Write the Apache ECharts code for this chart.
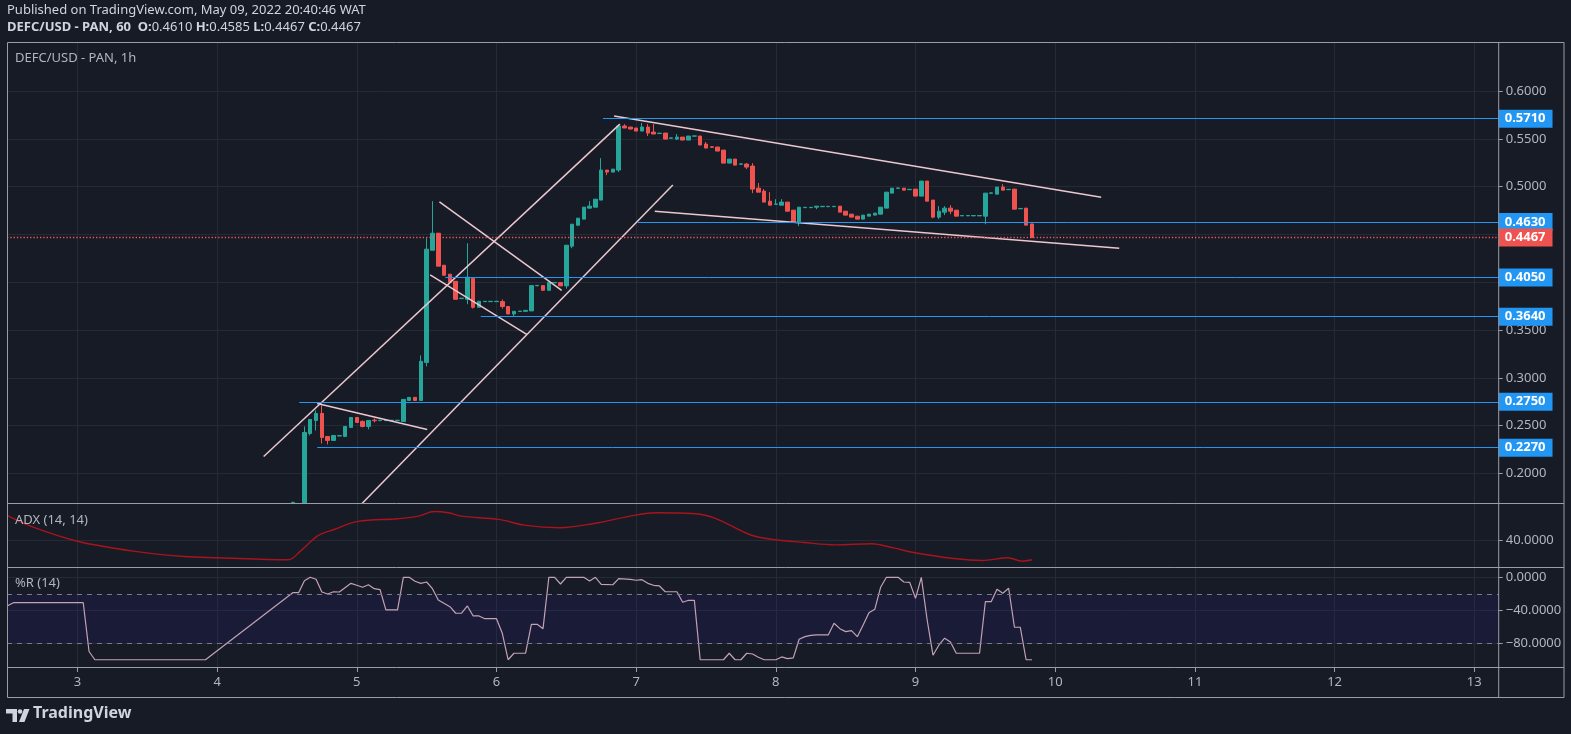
<!DOCTYPE html>
<html><head><meta charset="utf-8">
<script src="https://cdn.jsdelivr.net/npm/echarts@6/dist/echarts.min.js"></script>
<style>html,body{margin:0;padding:0;background:#171b26;overflow:hidden}#c{width:1571px;height:734px}</style>
</head><body><div id="c"></div>
<script>
// ---- data (hours counted from May 3 00:00) ----
const hours = [37,39,40,41,42,43,44,45,46,47,
  48,49,50,51,52,53,54,55,56,57,
  58,59,60,61,62,63,64,65,66,67,
  68,69,70,71,72,73,74,75,76,77,
  78,79,80,81,82,83,84,85,86,87,
  88,89,90,91,92,93,94,95,96,97,
  98,99,100,101,102,103,104,105,106,107,
  108,109,110,111,112,113,114,115,116,117,
  118,119,120,121,122,123,124,125,126,127,
  128,129,130,131,132,133,134,135,136,137,
  138,139,140,141,142,143,144,145,146,147,
  148,149,150,151,152,153,154,155,156,157,
  158,159,160,161,162,163,164];
const open = [0.1695,0.1692,0.2419,0.2555,0.2628,0.2387,0.2346,0.2392,0.2388,0.2482,
  0.2586,0.2545,0.2492,0.2558,0.2553,0.2553,0.2553,0.2553,0.2544,0.2764,
  0.2796,0.2764,0.3162,0.4335,0.4513,0.4178,0.4084,0.4010,0.3829,0.3822,
  0.4042,0.3738,0.3797,0.3797,0.3797,0.3798,0.3746,0.3668,0.3694,0.3696,
  0.3700,0.3963,0.3965,0.3916,0.3994,0.3996,0.3962,0.4377,0.4597,0.4660,
  0.4775,0.4785,0.4859,0.5173,0.5152,0.5173,0.5634,0.5623,0.5613,0.5581,
  0.5623,0.5570,0.5555,0.5560,0.5506,0.5497,0.5518,0.5487,0.5527,0.5529,
  0.5445,0.5417,0.5414,0.5382,0.5246,0.5288,0.5234,0.5236,0.5215,0.4984,
  0.4953,0.4848,0.4815,0.4806,0.4838,0.4754,0.4628,0.4780,0.4780,0.4785,
  0.4790,0.4790,0.4790,0.4796,0.4743,0.4712,0.4691,0.4660,0.4691,0.4702,
  0.4712,0.4775,0.4932,0.4982,0.4984,0.4968,0.4974,0.4901,0.5058,0.4859,
  0.4681,0.4733,0.4775,0.4754,0.4694,0.4694,0.4694,0.4694,0.4691,0.4930,
  0.4921,0.4995,0.4968,0.4974,0.4768,0.4775,0.4610];
const close = [0.1698,0.2429,0.2565,0.2628,0.2377,0.2346,0.2398,0.2396,0.2492,0.2586,
  0.2534,0.2492,0.2555,0.2552,0.2557,0.2557,0.2557,0.2557,0.2775,0.2796,
  0.2764,0.3173,0.4346,0.4513,0.4168,0.4073,0.4000,0.3822,0.3834,0.4052,
  0.3738,0.3801,0.3801,0.3801,0.3801,0.3746,0.3668,0.3696,0.3698,0.3706,
  0.3965,0.3967,0.3916,0.3996,0.3998,0.3962,0.4387,0.4607,0.4670,0.4785,
  0.4796,0.4869,0.5173,0.5152,0.5183,0.5634,0.5613,0.5602,0.5581,0.5623,
  0.5560,0.5550,0.5559,0.5497,0.5510,0.5518,0.5487,0.5529,0.5531,0.5435,
  0.5403,0.5411,0.5372,0.5246,0.5288,0.5225,0.5238,0.5204,0.4974,0.4942,
  0.4838,0.4806,0.4819,0.4838,0.4743,0.4628,0.4785,0.4784,0.4784,0.4796,
  0.4794,0.4794,0.4794,0.4733,0.4702,0.4681,0.4660,0.4702,0.4712,0.4723,
  0.4785,0.4942,0.4984,0.4986,0.4963,0.4972,0.4901,0.5058,0.4848,0.4681,
  0.4743,0.4775,0.4743,0.4691,0.4698,0.4698,0.4698,0.4698,0.4932,0.4935,
  0.4995,0.4963,0.4972,0.4764,0.4772,0.4597,0.4467];
const low = [0.1692,0.1692,0.2398,0.2450,0.2314,0.2304,0.2346,0.2392,0.2381,0.2482,
  0.2534,0.2482,0.2462,0.2534,0.2553,0.2553,0.2553,0.2553,0.2544,0.2764,
  0.2764,0.2764,0.3120,0.4335,0.4168,0.4073,0.4000,0.3822,0.3829,0.3770,
  0.3725,0.3738,0.3797,0.3797,0.3797,0.3725,0.3668,0.3638,0.3694,0.3696,
  0.3700,0.3963,0.3916,0.3916,0.3994,0.3962,0.3933,0.4356,0.4587,0.4660,
  0.4775,0.4785,0.4859,0.5120,0.5152,0.5152,0.5613,0.5602,0.5581,0.5581,
  0.5529,0.5550,0.5555,0.5497,0.5506,0.5487,0.5487,0.5487,0.5527,0.5435,
  0.5403,0.5411,0.5372,0.5246,0.5246,0.5225,0.5234,0.5183,0.4932,0.4942,
  0.4838,0.4806,0.4815,0.4806,0.4743,0.4628,0.4587,0.4780,0.4780,0.4764,
  0.4790,0.4790,0.4790,0.4733,0.4702,0.4681,0.4660,0.4660,0.4691,0.4702,
  0.4712,0.4775,0.4932,0.4982,0.4963,0.4968,0.4901,0.4901,0.4848,0.4670,
  0.4660,0.4702,0.4712,0.4691,0.4694,0.4694,0.4694,0.4694,0.4607,0.4930,
  0.4921,0.4963,0.4968,0.4764,0.4768,0.4597,0.4467];
const high = [0.1705,0.2492,0.2565,0.2660,0.2712,0.2387,0.2398,0.2396,0.2492,0.2586,
  0.2586,0.2555,0.2555,0.2576,0.2557,0.2557,0.2557,0.2557,0.2775,0.2796,
  0.2796,0.3236,0.4461,0.4848,0.4513,0.4178,0.4084,0.4010,0.3834,0.4408,
  0.4052,0.3801,0.3801,0.3801,0.3801,0.3820,0.3746,0.3696,0.3698,0.3706,
  0.3965,0.3967,0.3965,0.3996,0.3998,0.3996,0.4387,0.4607,0.4670,0.4785,
  0.4848,0.4869,0.5298,0.5173,0.5183,0.5634,0.5654,0.5623,0.5613,0.5665,
  0.5654,0.5654,0.5559,0.5560,0.5510,0.5550,0.5518,0.5529,0.5531,0.5529,
  0.5466,0.5424,0.5414,0.5382,0.5288,0.5288,0.5238,0.5246,0.5246,0.5037,
  0.4974,0.4942,0.4869,0.4869,0.4838,0.4754,0.4785,0.4784,0.4784,0.4796,
  0.4794,0.4794,0.4794,0.4796,0.4743,0.4712,0.4691,0.4702,0.4712,0.4723,
  0.4785,0.4942,0.4984,0.4986,0.4984,0.4972,0.4974,0.5058,0.5058,0.4859,
  0.4796,0.4796,0.4806,0.4754,0.4698,0.4698,0.4698,0.4698,0.4932,0.4935,
  0.4995,0.5026,0.4972,0.4974,0.4772,0.4775,0.4610];

// horizontal levels drawn on chart
const levelPrices = [0.5710, 0.4630, 0.4050, 0.3640, 0.2750, 0.2270];
const levelStartHours = [90.3, 96.3, 63.2, 69.3, 38.1, 41.2];
const lastPrice = 0.4467;

// trend lines: [hour, price] pairs
const trendLines = [
  [[32.0, 0.2178], [93.2, 0.5654]],
  [[48.9, 0.1686], [102.3, 0.5016]],
  [[62.2, 0.4841], [83.2, 0.3916]],
  [[60.6, 0.4076], [77.2, 0.3455]],
  [[41.2, 0.2733], [60.1, 0.2461]],
  [[92.2, 0.5738], [175.9, 0.4890]],
  [[99.2, 0.4743], [179.0, 0.4356]]
];

// ADX (14,14)
const adxHours = [-12.1,-7.6,0,9.6,18.3,24.1,36.2,38.4,41.4,44.1,48.2,55.1,58.6,61.3,63.7,66.0,72.4,76.8,82.9,88.5,95.9,99.6,105.7,109.4,115.6,119.9,124.8,130.3,136.5,140.2,143.9,150.6,155.5,159.9,162.3,164];
const adxValues = [53.9,47.4,39.6,34.1,31.1,30.4,29.3,34.4,42.8,46.1,50.6,52.1,53.5,56.1,55.4,53.5,51.7,48.5,47.1,49.3,54.1,55.4,55.0,52.6,43.2,40.4,38.9,37.6,38.2,35.9,33.2,30.0,28.9,30.4,28.5,29.3];

// Williams %R (14)
const wrHours = [-12.1,-11,1,2,3,22,37,38,39,40,41,42,43,44,45,47,48,49,50,51,52,53,55,56,57,58,59,60,61,62,64,65,66,67,68,69,70,72,
  73,74,75,77,78,79,80,81,82,83,84,87,88,89,90,92,93,95,96,97,98,99,100,101,103,104,105,106,107,111,112,113,114,115,116,117,118,120,121,122,123,
  124,125,126,127,129,130,131,132,133,134,135,136,137,138,139,141,142,143,144,145,146,147,148,149,150,151,155,156,157,158,159,160,161,162,163,164];
const wrValues = [-34.8,-30.8,-30.8,-90,-100,-100,-18.7,-18.7,-4.1,0,-2.4,-17.8,-20.2,-17.5,-17.8,-7.3,-9.7,-12.1,-9.0,-13.8,-15.0,-39.6,-39.6,0,0,-4.8,-7.3,-5.7,-13.8,-27.5,-35.6,-43.6,-43.6,-34.8,-46.9,-46.9,-50.2,-50.2,
  -67.9,-100,-92.1,-92.1,-57.0,-57.0,-62.3,0,0,-8.1,0,0,-4.5,0,-8.5,-9.0,-1.7,-2.4,-3.6,-2.9,-7.3,-9.7,-10.5,-17.5,-17.5,-30.3,-27.9,-27.9,-100,-100,-92.1,-100,-100,-92.1,-93.0,-97.0,-100,-100,-96.6,-98.7,-97.8,
  -75.2,-72.0,-70.5,-69.9,-69.9,-55.8,-62.3,-65.9,-64.7,-72.0,-57.8,-42.9,-38.8,-12.1,0,0,-5.7,-6.1,-25.5,0,-51.8,-94.5,-82.4,-73.9,-78.4,-92.1,-92.1,-29.6,-29.6,-14.5,-19.4,-13.3,-60.6,-60.6,-100,-100];

// axis ticks
const dayTickHours = [0,24,48,72,96,120,144,168,192,216,240];
const dayLabels = ['3','4','5','6','7','8','9','10','11','12','13'];
const priceGrid = [0.2,0.25,0.3,0.35,0.4,0.45,0.5,0.55,0.6];
const priceLabels = [0.2,0.25,0.3,0.35,0.5,0.55,0.6];
const adxTicks = [40];
const wrTicks = [0,-40,-80];
const wrBands = [-20,-80];

// ---- chart ----
const FONT = '"Noto Sans","Open Sans",sans-serif';
const X_MIN = -12.1, X_MAX = 244.2;
const GRID_L = 7, GRID_W = 1491.7;
const BG = '#171b26';
const GRIDC = '#262a36';
const FRAME = '#9a9da6';
const TXT = '#b2b5be';
const UP = '#26a69a', DOWN = '#ef5350';

const chart = echarts.init(document.getElementById('c'), null, {renderer:'canvas'});

function xAx(i){
  return {type:'value', gridIndex:i, min:X_MIN, max:X_MAX,
    axisLine:{show:false, onZero:false},
    axisTick:{show:i===2, customValues:dayTickHours, length:5, lineStyle:{color:FRAME}},
    axisLabel:{show:i===2, customValues:dayTickHours, color:TXT, fontSize:13, fontFamily:FONT, margin:9,
      formatter:(v)=>dayLabels[dayTickHours.indexOf(v)]},
    splitLine:{show:true, lineStyle:{color:GRIDC, width:1}}};
}

const candleData = hours.map((h,i)=>[h, open[i], close[i], low[i], high[i]]);

const lvlMark = levelPrices.map((p,i)=>[
  {coord:[levelStartHours[i], p], lineStyle:{color:'#2196f3', width:1, type:'solid'},
   label:{show:true, position:'end', distance:0, formatter:p.toFixed(4), backgroundColor:'#2196f3',
     color:'#ffffff', fontWeight:'bold', fontSize:13, fontFamily:FONT, padding:[3,7,2,6]}},
  {coord:[X_MAX, p]}
]);
lvlMark.push([
  {coord:[X_MIN, lastPrice], lineStyle:{color:'#f05a5a', width:1.3, type:[1.3,2]},
   label:{show:true, position:'end', distance:0, formatter:lastPrice.toFixed(4), backgroundColor:DOWN,
     color:'#ffffff', fontWeight:'bold', fontSize:13, fontFamily:FONT, padding:[3,7,2,6]}},
  {coord:[X_MAX, lastPrice]}
]);

const series = [
  {type:'candlestick', name:'DEFC/USD', xAxisIndex:0, yAxisIndex:0, data:candleData,
   encode:{x:0, y:[1,2,3,4]}, barWidth:4, clip:true,
   itemStyle:{color:UP, color0:DOWN, borderColor:UP, borderColor0:DOWN, borderWidth:1},
   markLine:{silent:true, symbol:['none','none'], animation:false, data:lvlMark, z:5}
  }
];
trendLines.forEach((tl,i)=>{
  series.push({type:'line', name:'trend'+i, xAxisIndex:0, yAxisIndex:0, data:tl, symbol:'none', silent:true,
    lineStyle:{color:'#ecc7cf', width:1.5}, z:4, clip:true});
});
series.push({type:'line', name:'ADX', xAxisIndex:1, yAxisIndex:1, data:adxHours.map((h,i)=>[h,adxValues[i]]),
  symbol:'none', smooth:0.35, lineStyle:{color:'#a8141b', width:1.4}, silent:true});
series.push({type:'line', name:'%R', xAxisIndex:2, yAxisIndex:2, data:wrHours.map((h,i)=>[h,wrValues[i]]),
  symbol:'none', lineStyle:{color:'#c3a2b6', width:1.2}, silent:true, z:4,
  markArea:{silent:true, itemStyle:{color:'rgba(45,40,150,0.16)'}, data:[[{yAxis:wrBands[0]},{yAxis:wrBands[1]}]]},
  markLine:{silent:true, symbol:['none','none'], label:{show:false},
    lineStyle:{color:'#787b86', type:[5,5], width:1}, data:wrBands.map(v=>({yAxis:v}))}
});

const gfx = [
  {type:'text', left:7, top:4, z:20, style:{text:'Published on TradingView.com, May 09, 2022 20:40:46 WAT', fill:'#d1d4dc', font:'13px '+FONT}},
  {type:'text', left:7, top:21, z:20, style:{
    text:'{b|DEFC/USD - PAN, 60}  {b|O:}{n|0.4610} {b|H:}{n|0.4585} {b|L:}{n|0.4467} {b|C:}{n|0.4467}',
    rich:{b:{fill:'#d1d4dc', fontWeight:'bold', fontSize:13, fontFamily:FONT},
          n:{fill:'#d1d4dc', fontSize:13, fontFamily:FONT}}}},
  {type:'text', left:15, top:52, z:20, style:{text:'DEFC/USD - PAN, 1h', fill:TXT, font:'13px '+FONT}},
  {type:'text', left:15, top:514, z:20, style:{text:'ADX (14, 14)', fill:TXT, font:'13px '+FONT}},
  {type:'text', left:15, top:577, z:20, style:{text:'%R (14)', fill:TXT, font:'13px '+FONT}},
  // frame
  {type:'rect', shape:{x:7.5, y:42.5, width:1556.5, height:655}, style:{fill:null, stroke:FRAME, lineWidth:1}, silent:true, z:10},
  {type:'line', shape:{x1:1498.7, y1:42.5, x2:1498.7, y2:697.5}, style:{stroke:FRAME, lineWidth:1}, silent:true, z:10},
  {type:'line', shape:{x1:7.5, y1:503.5, x2:1564, y2:503.5}, style:{stroke:FRAME, lineWidth:1}, silent:true, z:10},
  {type:'line', shape:{x1:7.5, y1:567.5, x2:1564, y2:567.5}, style:{stroke:FRAME, lineWidth:1}, silent:true, z:10},
  {type:'line', shape:{x1:7.5, y1:667.5, x2:1564, y2:667.5}, style:{stroke:FRAME, lineWidth:1}, silent:true, z:10},
  // logo
  {type:'polygon', shape:{points:[[6,709],[17,709],[17,722],[12.5,722],[12.5,713.5],[6,713.5]]}, style:{fill:'#d1d4dc'}, silent:true},
  {type:'circle', shape:{cx:20, cy:711.5, r:2.3}, style:{fill:'#d1d4dc'}, silent:true},
  {type:'polygon', shape:{points:[[24,709],[29.5,709],[24.5,722],[19,722]]}, style:{fill:'#d1d4dc'}, silent:true},
  {type:'text', left:33, top:705, style:{text:'TradingView', fill:'#d1d4dc', font:'bold 16px '+FONT}}
];

chart.setOption({
  backgroundColor: BG,
  animation:false,
  grid:[
    {left:GRID_L, top:42, width:GRID_W, height:461},
    {left:GRID_L, top:503, width:GRID_W, height:64},
    {left:GRID_L, top:567, width:GRID_W, height:100}
  ],
  xAxis:[xAx(0), xAx(1), xAx(2)],
  yAxis:[
    {type:'value', gridIndex:0, position:'right', min:0.16915, max:0.65124,
     axisLine:{show:false, onZero:false},
     axisTick:{show:true, customValues:priceGrid, length:4, lineStyle:{color:FRAME}},
     axisLabel:{customValues:priceLabels, formatter:(v)=>v.toFixed(4), color:TXT, fontSize:13, fontFamily:FONT, margin:7},
     splitLine:{show:true, lineStyle:{color:GRIDC}}},
    {type:'value', gridIndex:1, position:'right', min:25.3, max:60.8,
     axisLine:{show:false, onZero:false},
     axisTick:{show:true, customValues:adxTicks, length:4, lineStyle:{color:FRAME}},
     axisLabel:{customValues:adxTicks, formatter:(v)=>v.toFixed(4), color:TXT, fontSize:13, fontFamily:FONT, margin:7},
     splitLine:{show:true, lineStyle:{color:GRIDC}}},
    {type:'value', gridIndex:2, position:'right', min:-108.8, max:12.5,
     axisLine:{show:false, onZero:false},
     axisTick:{show:true, customValues:wrTicks, length:4, lineStyle:{color:FRAME}},
     axisLabel:{customValues:wrTicks, formatter:(v)=> v===0 ? '0.0000' : '\u2212'+Math.abs(v).toFixed(4), color:TXT, fontSize:13, fontFamily:FONT, margin:7},
     splitLine:{show:true, lineStyle:{color:GRIDC}}}
  ],
  series: series,
  graphic: gfx
});
</script>
</body></html>
